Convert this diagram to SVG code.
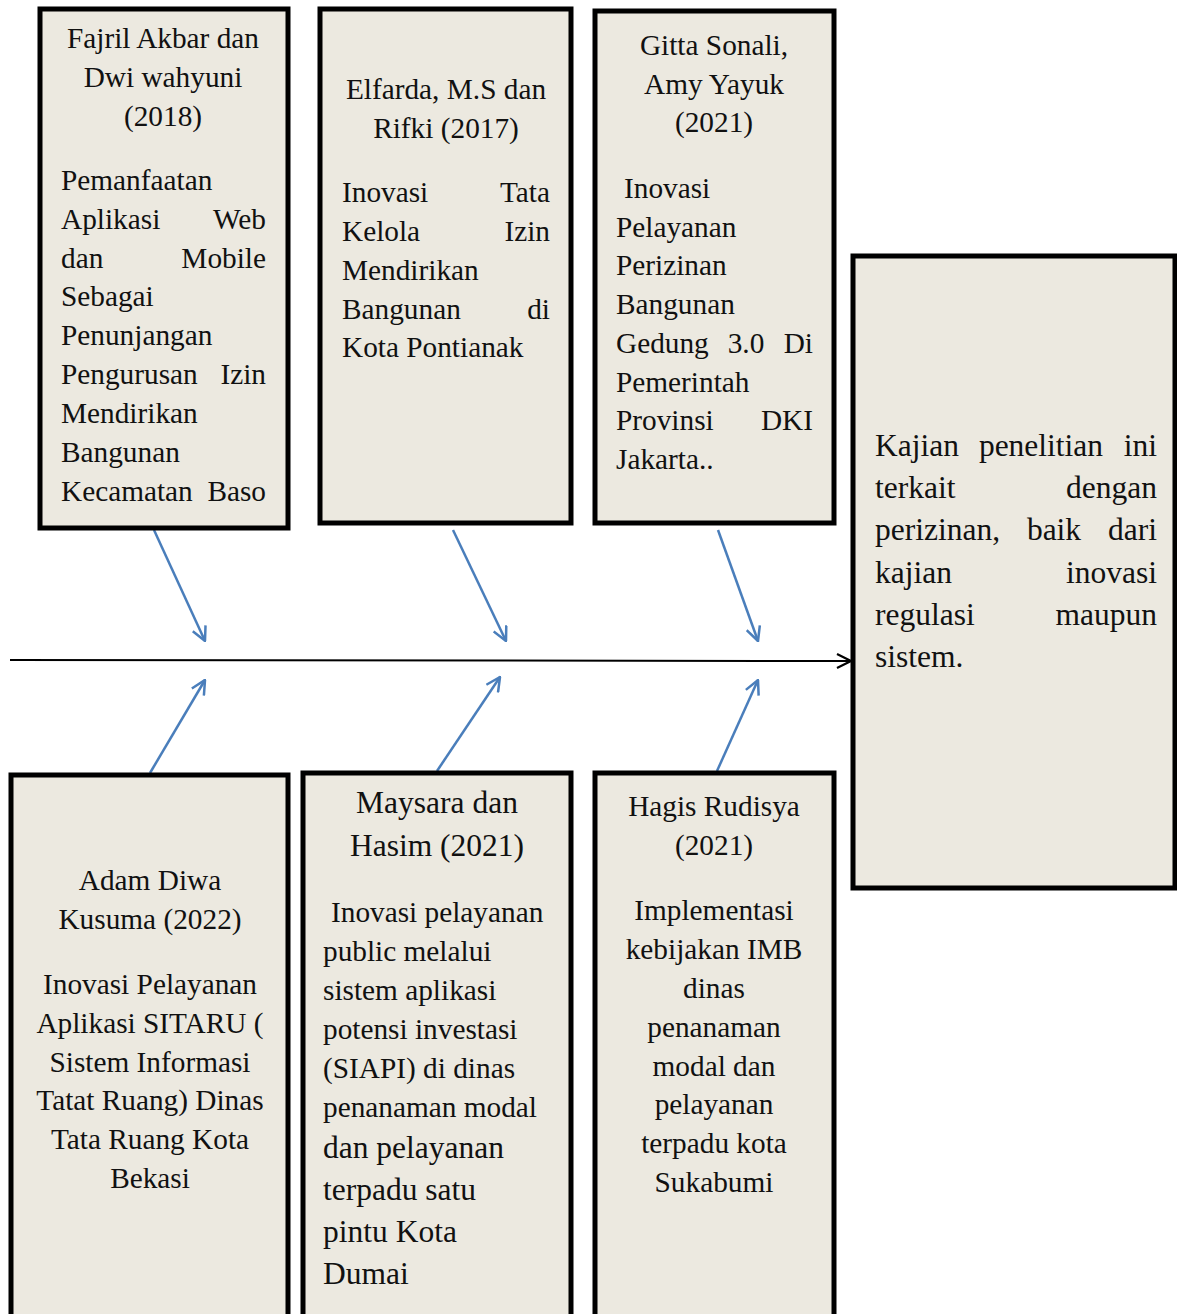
<svg xmlns="http://www.w3.org/2000/svg" width="1177" height="1314" viewBox="0 0 1177 1314">
<style>
.box{fill:#ECE9E0;stroke:#000;stroke-width:5}
text{font-family:"Liberation Serif","Times New Roman",serif;font-size:29.3px;fill:#111}
.c{text-anchor:middle}
.e{text-anchor:end}
.big{font-size:31.5px}
.blue{stroke:#4A7EBB;stroke-width:2.5;fill:none}
</style>
<defs>
<marker id="ab" viewBox="0 0 16 16" refX="15" refY="8" markerWidth="16" markerHeight="16" markerUnits="userSpaceOnUse" orient="auto">
<path d="M1,1 L15,8 L1,15" fill="none" stroke="#4A7EBB" stroke-width="2.5"/>
</marker>
<marker id="ak" viewBox="0 0 16 16" refX="15" refY="8" markerWidth="16" markerHeight="16" markerUnits="userSpaceOnUse" orient="auto">
<path d="M1,1 L15,8 L1,15" fill="none" stroke="#000" stroke-width="2.2"/>
</marker>
</defs>
<rect width="1177" height="1314" fill="#fff"/>
<g id="connectors">
<line x1="10" y1="660" x2="851" y2="661" stroke="#000" stroke-width="2" marker-end="url(#ak)"/>
<line class="blue" x1="154" y1="530" x2="205" y2="641" marker-end="url(#ab)"/>
<line class="blue" x1="453" y1="530" x2="506" y2="641" marker-end="url(#ab)"/>
<line class="blue" x1="718" y1="530" x2="758" y2="641" marker-end="url(#ab)"/>
<line class="blue" x1="150" y1="773" x2="205" y2="680" marker-end="url(#ab)"/>
<line class="blue" x1="437" y1="771" x2="500" y2="677" marker-end="url(#ab)"/>
<line class="blue" x1="717" y1="771" x2="758" y2="680" marker-end="url(#ab)"/>
</g>
<g id="n1">
<rect class="box" x="40" y="9" width="248" height="519"/>
<text class="c" x="163" y="48">Fajril Akbar dan</text>
<text class="c" x="163" y="87">Dwi wahyuni</text>
<text class="c" x="163" y="126">(2018)</text>
<text x="61" y="190">Pemanfaatan</text>
<text x="61" y="229">Aplikasi</text><text class="e" x="266" y="229">Web</text>
<text x="61" y="268">dan</text><text class="e" x="266" y="268">Mobile</text>
<text x="61" y="306">Sebagai</text>
<text x="61" y="345">Penunjangan</text>
<text x="61" y="384">Pengurusan</text><text class="e" x="266" y="384">Izin</text>
<text x="61" y="423">Mendirikan</text>
<text x="61" y="462">Bangunan</text>
<text x="61" y="501">Kecamatan</text><text class="e" x="266" y="501">Baso</text>
</g>
<g id="n2">
<rect class="box" x="320" y="9" width="251" height="514"/>
<text class="c" x="446" y="99">Elfarda, M.S dan</text>
<text class="c" x="446" y="138">Rifki (2017)</text>
<text x="342" y="202">Inovasi</text><text class="e" x="550" y="202">Tata</text>
<text x="342" y="241">Kelola</text><text class="e" x="550" y="241">Izin</text>
<text x="342" y="280">Mendirikan</text>
<text x="342" y="319">Bangunan</text><text class="e" x="550" y="319">di</text>
<text x="342" y="357">Kota Pontianak</text>
</g>
<g id="n3">
<rect class="box" x="595" y="11" width="239" height="512"/>
<text class="c" x="714" y="55">Gitta Sonali,</text>
<text class="c" x="714" y="94">Amy Yayuk</text>
<text class="c" x="714" y="132">(2021)</text>
<text x="624" y="198">Inovasi</text>
<text x="616" y="237">Pelayanan</text>
<text x="616" y="275">Perizinan</text>
<text x="616" y="314">Bangunan</text>
<text x="616" y="353">Gedung</text><text class="c" x="746" y="353">3.0</text><text class="e" x="813" y="353">Di</text>
<text x="616" y="392">Pemerintah</text>
<text x="616" y="430">Provinsi</text><text class="e" x="813" y="430">DKI</text>
<text x="616" y="469">Jakarta..</text>
</g>
<g id="n4">
<rect class="box" x="853" y="256" width="322" height="632"/>
<text class="big" x="875" y="456">Kajian</text><text class="big c" x="1041" y="456">penelitian</text><text class="big e" x="1157" y="456">ini</text>
<text class="big" x="875" y="498">terkait</text><text class="big e" x="1157" y="498">dengan</text>
<text class="big" x="875" y="540">perizinan,</text><text class="big c" x="1054" y="540">baik</text><text class="big e" x="1157" y="540">dari</text>
<text class="big" x="875" y="583">kajian</text><text class="big e" x="1157" y="583">inovasi</text>
<text class="big" x="875" y="625">regulasi</text><text class="big e" x="1157" y="625">maupun</text>
<text class="big" x="875" y="667">sistem.</text>
</g>
<g id="n5">
<rect class="box" x="11" y="775" width="277" height="545"/>
<text class="c" x="150" y="890">Adam Diwa</text>
<text class="c" x="150" y="929">Kusuma (2022)</text>
<text class="c" x="150" y="994">Inovasi Pelayanan</text>
<text class="c" x="150" y="1033">Aplikasi SITARU (</text>
<text class="c" x="150" y="1072">Sistem Informasi</text>
<text class="c" x="150" y="1110">Tatat Ruang) Dinas</text>
<text class="c" x="150" y="1149">Tata Ruang Kota</text>
<text class="c" x="150" y="1188">Bekasi</text>
</g>
<g id="n6">
<rect class="box" x="303" y="773" width="268" height="547"/>
<text class="big c" x="437" y="813">Maysara dan</text>
<text class="big c" x="437" y="856">Hasim (2021)</text>
<text x="331" y="922">Inovasi pelayanan</text>
<text x="323" y="961">public melalui</text>
<text x="323" y="1000">sistem aplikasi</text>
<text x="323" y="1039">potensi investasi</text>
<text x="323" y="1078">(SIAPI) di dinas</text>
<text x="323" y="1117">penanaman modal</text>
<text class="big" x="323" y="1158">dan pelayanan</text>
<text class="big" x="323" y="1200">terpadu satu</text>
<text class="big" x="323" y="1242">pintu Kota</text>
<text class="big" x="323" y="1284">Dumai</text>
</g>
<g id="n7">
<rect class="box" x="595" y="773" width="239" height="547"/>
<text class="c" x="714" y="816">Hagis Rudisya</text>
<text class="c" x="714" y="855">(2021)</text>
<text class="c" x="714" y="920">Implementasi</text>
<text class="c" x="714" y="959">kebijakan IMB</text>
<text class="c" x="714" y="998">dinas</text>
<text class="c" x="714" y="1037">penanaman</text>
<text class="c" x="714" y="1076">modal dan</text>
<text class="c" x="714" y="1114">pelayanan</text>
<text class="c" x="714" y="1153">terpadu kota</text>
<text class="c" x="714" y="1192">Sukabumi</text>
</g>
</svg>
